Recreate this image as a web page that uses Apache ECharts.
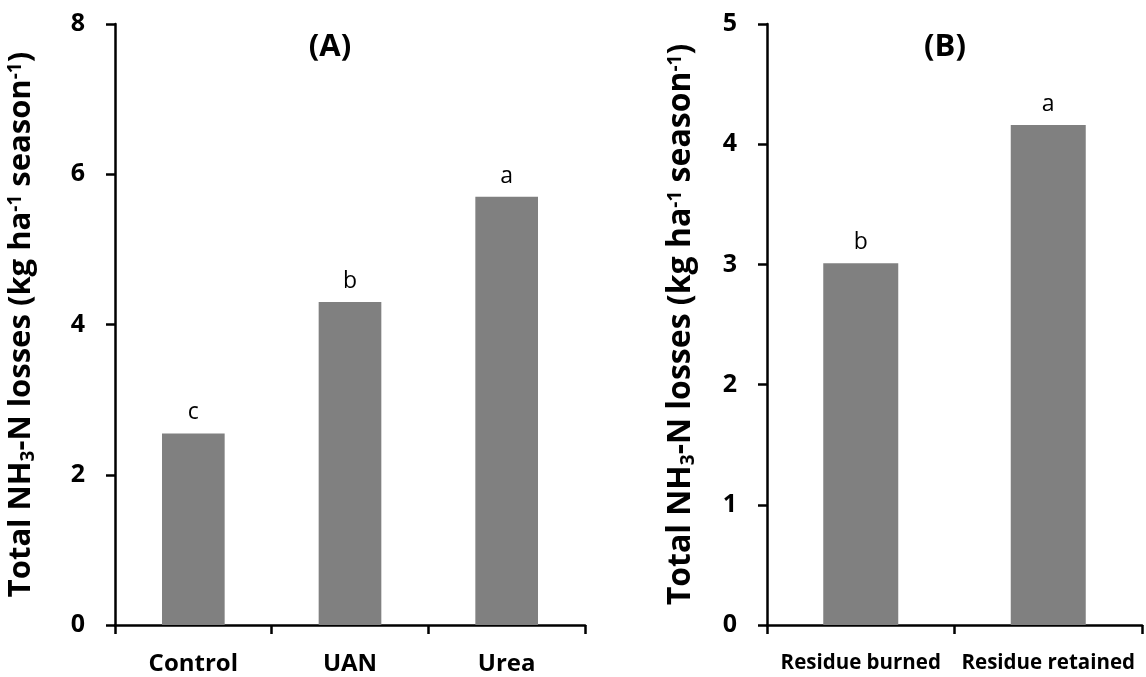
<!DOCTYPE html>
<html>
<head>
<meta charset="utf-8">
<script src="https://cdn.jsdelivr.net/npm/echarts@6/dist/echarts.min.js"></script>
<style>html,body{margin:0;padding:0;background:#fff;}#c{width:1146px;height:677px;}</style>
</head>
<body>
<div id="c"></div>
<script>
const catsA = ['Control', 'UAN', 'Urea'];
const valsA = [2.55, 4.3, 5.7];
const lettersA = ['c', 'b', 'a'];
const catsB = ['Residue burned', 'Residue retained'];
const valsB = [3.01, 4.16];
const lettersB = ['b', 'a'];
const titleA = '(A)';
const titleB = '(B)';

const FONT = 'Open Sans';
const chart = echarts.init(document.getElementById('c'));

function yRich(fs) {
  return {
    b: {fontFamily: FONT, fontWeight: 'bold', fontSize: fs, color: '#000', lineHeight: 40, verticalAlign: 'middle'},
    sub: {fontFamily: FONT, fontWeight: 'bold', fontSize: Math.round(fs * 0.6), color: '#000', lineHeight: 40, verticalAlign: 'bottom', padding: [0,0,3,0]},
    sup: {fontFamily: FONT, fontWeight: 'bold', fontSize: Math.round(fs * 0.6), color: '#000', lineHeight: 40, verticalAlign: 'top', padding: [5,0,0,0]}
  };
}
const yName = '{b|Total NH}{sub|3}{b|-N losses (kg ha}{sup|-1}{b| season}{sup|-1}{b|)}';
const axisLine = {show: true, lineStyle: {color: '#000', width: 2.5}};
const axisTick = {show: true, inside: false, length: 9, lineStyle: {color: '#000', width: 2.5}};

function yAxis(idx, max, gap, fs) {
  return {
    type: 'value', gridIndex: idx, min: 0, max: max, interval: max === 8 ? 2 : 1,
    axisLine: axisLine, axisTick: axisTick, splitLine: {show: false},
    axisLabel: {fontFamily: FONT, fontWeight: 'bold', fontSize: 25, color: '#000', margin: 30},
    name: yName, nameLocation: 'middle', nameRotate: 90, nameGap: gap,
    nameTextStyle: {rich: yRich(fs)}
  };
}
function xAxis(idx, cats, fs, m) {
  return {
    type: 'category', gridIndex: idx, data: cats,
    axisLine: axisLine, axisTick: axisTick,
    axisLabel: {fontFamily: FONT, fontWeight: 'bold', fontSize: fs, color: '#000', margin: m, interval: 0}
  };
}
function bars(idx, vals, letters) {
  return {
    type: 'bar', xAxisIndex: idx, yAxisIndex: idx, data: vals, barWidth: '40%',
    itemStyle: {color: '#808080'},
    label: {show: true, position: 'top', distance: 9, fontFamily: FONT, fontSize: 23, color: '#000',
      formatter: p => letters[p.dataIndex]}
  };
}

chart.setOption({
  backgroundColor: '#fff',
  animation: false,
  title: [
    {text: titleA, left: 325, top: 27, textAlign: 'center', textStyle: {fontFamily: FONT, fontWeight: 'bold', fontSize: 31, color: '#000'}},
    {text: titleB, left: 940, top: 27, textAlign: 'center', textStyle: {fontFamily: FONT, fontWeight: 'bold', fontSize: 31, color: '#000'}}
  ],
  grid: [
    {left: 115, top: 24, width: 470, bottom: 52},
    {left: 767, top: 24, width: 375, bottom: 52}
  ],
  xAxis: [xAxis(0, catsA, 24, 27), xAxis(1, catsB, 20.5, 28)],
  yAxis: [yAxis(0, 8, 74, 31), yAxis(1, 5, 66, 32)],
  series: [bars(0, valsA, lettersA), bars(1, valsB, lettersB)]
});
</script>
</body>
</html>
